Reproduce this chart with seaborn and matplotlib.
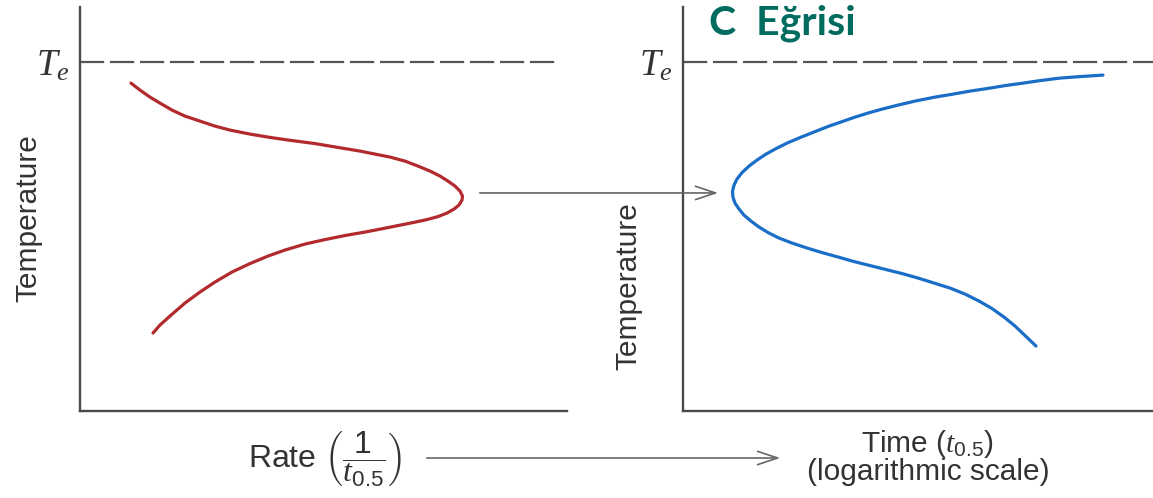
import numpy as np
import pandas as pd
import matplotlib
matplotlib.use("Agg")
import matplotlib.pyplot as plt
from matplotlib.patches import ConnectionPatch, FancyArrowPatch
import matplotlib.transforms as mtransforms
import seaborn as sns

# Transformation rate vs temperature (left panel)
rate = [10.47, 12.32, 14.37, 16.43, 18.89, 21.56, 24.64, 27.72, 30.80, 34.91,
        38.60, 42.09, 45.17, 48.25, 51.33, 54.41, 57.49, 60.57, 63.66, 66.74,
        69.40, 71.87, 73.92, 75.56, 77.00, 78.03, 78.54, 78.44, 77.82, 76.80,
        75.36, 73.51, 71.25, 68.38, 65.30, 62.22, 58.52, 54.41, 50.31, 46.20,
        42.09, 38.60, 34.91, 31.21, 27.72, 24.64, 21.56, 18.48, 16.43, 14.99]
rate_temp = [93.98, 91.98, 89.97, 88.25, 86.25, 84.53, 83.09, 81.66, 80.52,
             79.37, 78.51, 77.79, 77.22, 76.65, 75.93, 75.21, 74.50, 73.64,
             72.78, 71.63, 70.20, 68.77, 67.34, 65.90, 64.47, 63.04, 61.60,
             60.46, 59.03, 57.88, 56.73, 55.73, 54.87, 54.01, 53.15, 52.29,
             51.29, 50.29, 49.14, 47.85, 46.13, 44.41, 42.26, 39.83, 36.96,
             34.10, 30.95, 27.22, 24.64, 22.35]

# Time to 50% transformation vs temperature (right panel, log time)
half_time = [3754, 2391, 1616, 1092, 782.8, 550.1, 410.1, 277.1, 198.6, 139.5,
             94.3, 67.6, 49.4, 37.5, 29.1, 22.6, 17.5, 13.3, 9.90, 7.68, 6.19,
             5.09, 4.26, 3.65, 3.18, 2.88, 2.72, 2.64, 2.66, 2.77, 3.00, 3.30,
             3.79, 4.44, 5.29, 6.56, 8.47, 11.4, 15.2, 20.9, 28.5, 39.0, 53.4,
             73.1, 100.0, 136.8, 187.2, 251.2, 330.5, 426.4, 539.4, 669.1,
             814.0, 1010]
time_temp = [96.28, 95.85, 95.42, 94.70, 93.98, 93.27, 92.55, 91.69, 90.83,
             89.97, 88.83, 87.68, 86.53, 85.39, 84.24, 82.95, 81.66, 80.09,
             78.37, 76.79, 75.21, 73.64, 71.92, 70.20, 68.34, 66.48, 64.76,
             63.04, 61.32, 59.60, 57.88, 56.16, 54.44, 52.72, 51.15, 49.57,
             48.14, 46.70, 45.42, 44.13, 42.84, 41.69, 40.54, 39.40, 38.11,
             36.68, 35.24, 33.52, 31.52, 29.37, 26.93, 24.36, 21.63, 18.62]

T_EQ = 100.0          # equilibrium temperature T_e
NOSE_TEMP = 62.5      # temperature of the rate maximum / time minimum

sns.set_theme(style="white")
plt.rcParams["font.family"] = ["Liberation Sans", "DejaVu Sans"]
plt.rcParams["mathtext.fontset"] = "custom"
plt.rcParams["mathtext.rm"] = "Liberation Sans"
plt.rcParams["mathtext.it"] = "Liberation Serif:italic"
plt.rcParams["mathtext.sf"] = "Liberation Sans"

TEXT = "#333333"
AXIS = "#4a4a4a"
DASH = "#555555"
LABEL_SIZE = 21.5

fig = plt.figure(figsize=(11.53, 4.98), dpi=100)
ax1 = fig.add_axes([80 / 1153, 87 / 498, 487 / 1153, 404 / 498])
ax2 = fig.add_axes([683 / 1153, 87 / 498, 470 / 1153, 404 / 498])

df_rate = pd.DataFrame({"rate": rate, "temp": rate_temp})
df_time = pd.DataFrame({"time": half_time, "temp": time_temp})

ax2.set_xscale("log")

sns.lineplot(data=df_rate, x="rate", y="temp", sort=False, estimator=None,
             color="#b22a2e", lw=2.3, ax=ax1, solid_joinstyle="round",
             solid_capstyle="round")
sns.lineplot(data=df_time, x="time", y="temp", sort=False, estimator=None,
             color="#1a6ec8", lw=2.3, ax=ax2, solid_joinstyle="round",
             solid_capstyle="round")

ax1.set_xlim(0, 100)
ax2.set_xlim(1, 1e4)
for ax in (ax1, ax2):
    ax.set_ylim(0, 115.8)
    ax.set_xticks([])
    ax.set_yticks([])
    ax.xaxis.set_minor_locator(matplotlib.ticker.NullLocator())
    for side in ("top", "right"):
        ax.spines[side].set_visible(False)
    for side in ("left", "bottom"):
        ax.spines[side].set_color(AXIS)
        ax.spines[side].set_linewidth(1.7)
    ax.set_facecolor("none")

# Equilibrium temperature lines
ax1.axhline(T_EQ, xmin=0, xmax=0.975, color=DASH, lw=1.6, dashes=(10.9, 2.6))
ax2.axhline(T_EQ, xmin=0, xmax=1, color=DASH, lw=1.6, dashes=(10.9, 2.6))

for ax in (ax1, ax2):
    trans = mtransforms.blended_transform_factory(ax.transAxes, ax.transData)
    ax.annotate(r"$T_e$", xy=(0, T_EQ), xycoords=trans, xytext=(-7, -10),
                textcoords="offset points", ha="right", va="baseline",
                fontsize=27, color=TEXT)

# Axis labels
ax1.set_ylabel("Temperature", fontsize=LABEL_SIZE, color=TEXT, va="center")
ax1.yaxis.set_label_coords(-0.107, 0.478)
ax2.set_ylabel("Temperature", fontsize=LABEL_SIZE, color=TEXT, va="center")
ax2.yaxis.set_label_coords(-0.117, 0.31)

ax1.set_xlabel(r"Rate $\left(\dfrac{1}{t_{0.5}}\right)$", fontsize=23,
               color=TEXT, va="center")
ax1.xaxis.set_label_coords(0.503, -0.118)
ax2.set_xlabel("Time ($t_{0.5}$)\n(logarithmic scale)", fontsize=LABEL_SIZE,
               color=TEXT, va="center", linespacing=0.93)
ax2.xaxis.set_label_coords(0.521, -0.114)

# Arrow linking the rate maximum to the time minimum
con = ConnectionPatch(xyA=(82.1, NOSE_TEMP), coordsA=ax1.transData,
                      xyB=(1.99, NOSE_TEMP), coordsB=ax2.transData,
                      arrowstyle="->,head_length=0.9,head_width=0.3",
                      mutation_scale=16, color="#666666", lw=1.2)
fig.add_artist(con)

# Arrow linking the two horizontal quantities
arr = FancyArrowPatch((424 / 1153, 40 / 498), (783 / 1153, 40 / 498),
                      transform=fig.transFigure,
                      arrowstyle="->,head_length=0.9,head_width=0.3",
                      mutation_scale=16, color="#666666", lw=1.2)
fig.add_artist(arr)

fig.text(709 / 1153, (498 - 35) / 498, "C  Eğrisi", fontsize=29.5,
         fontweight="bold", family=["Lato", "DejaVu Sans"], color="#006b5f",
         ha="left", va="baseline")

fig.savefig("out.png", dpi=100)
